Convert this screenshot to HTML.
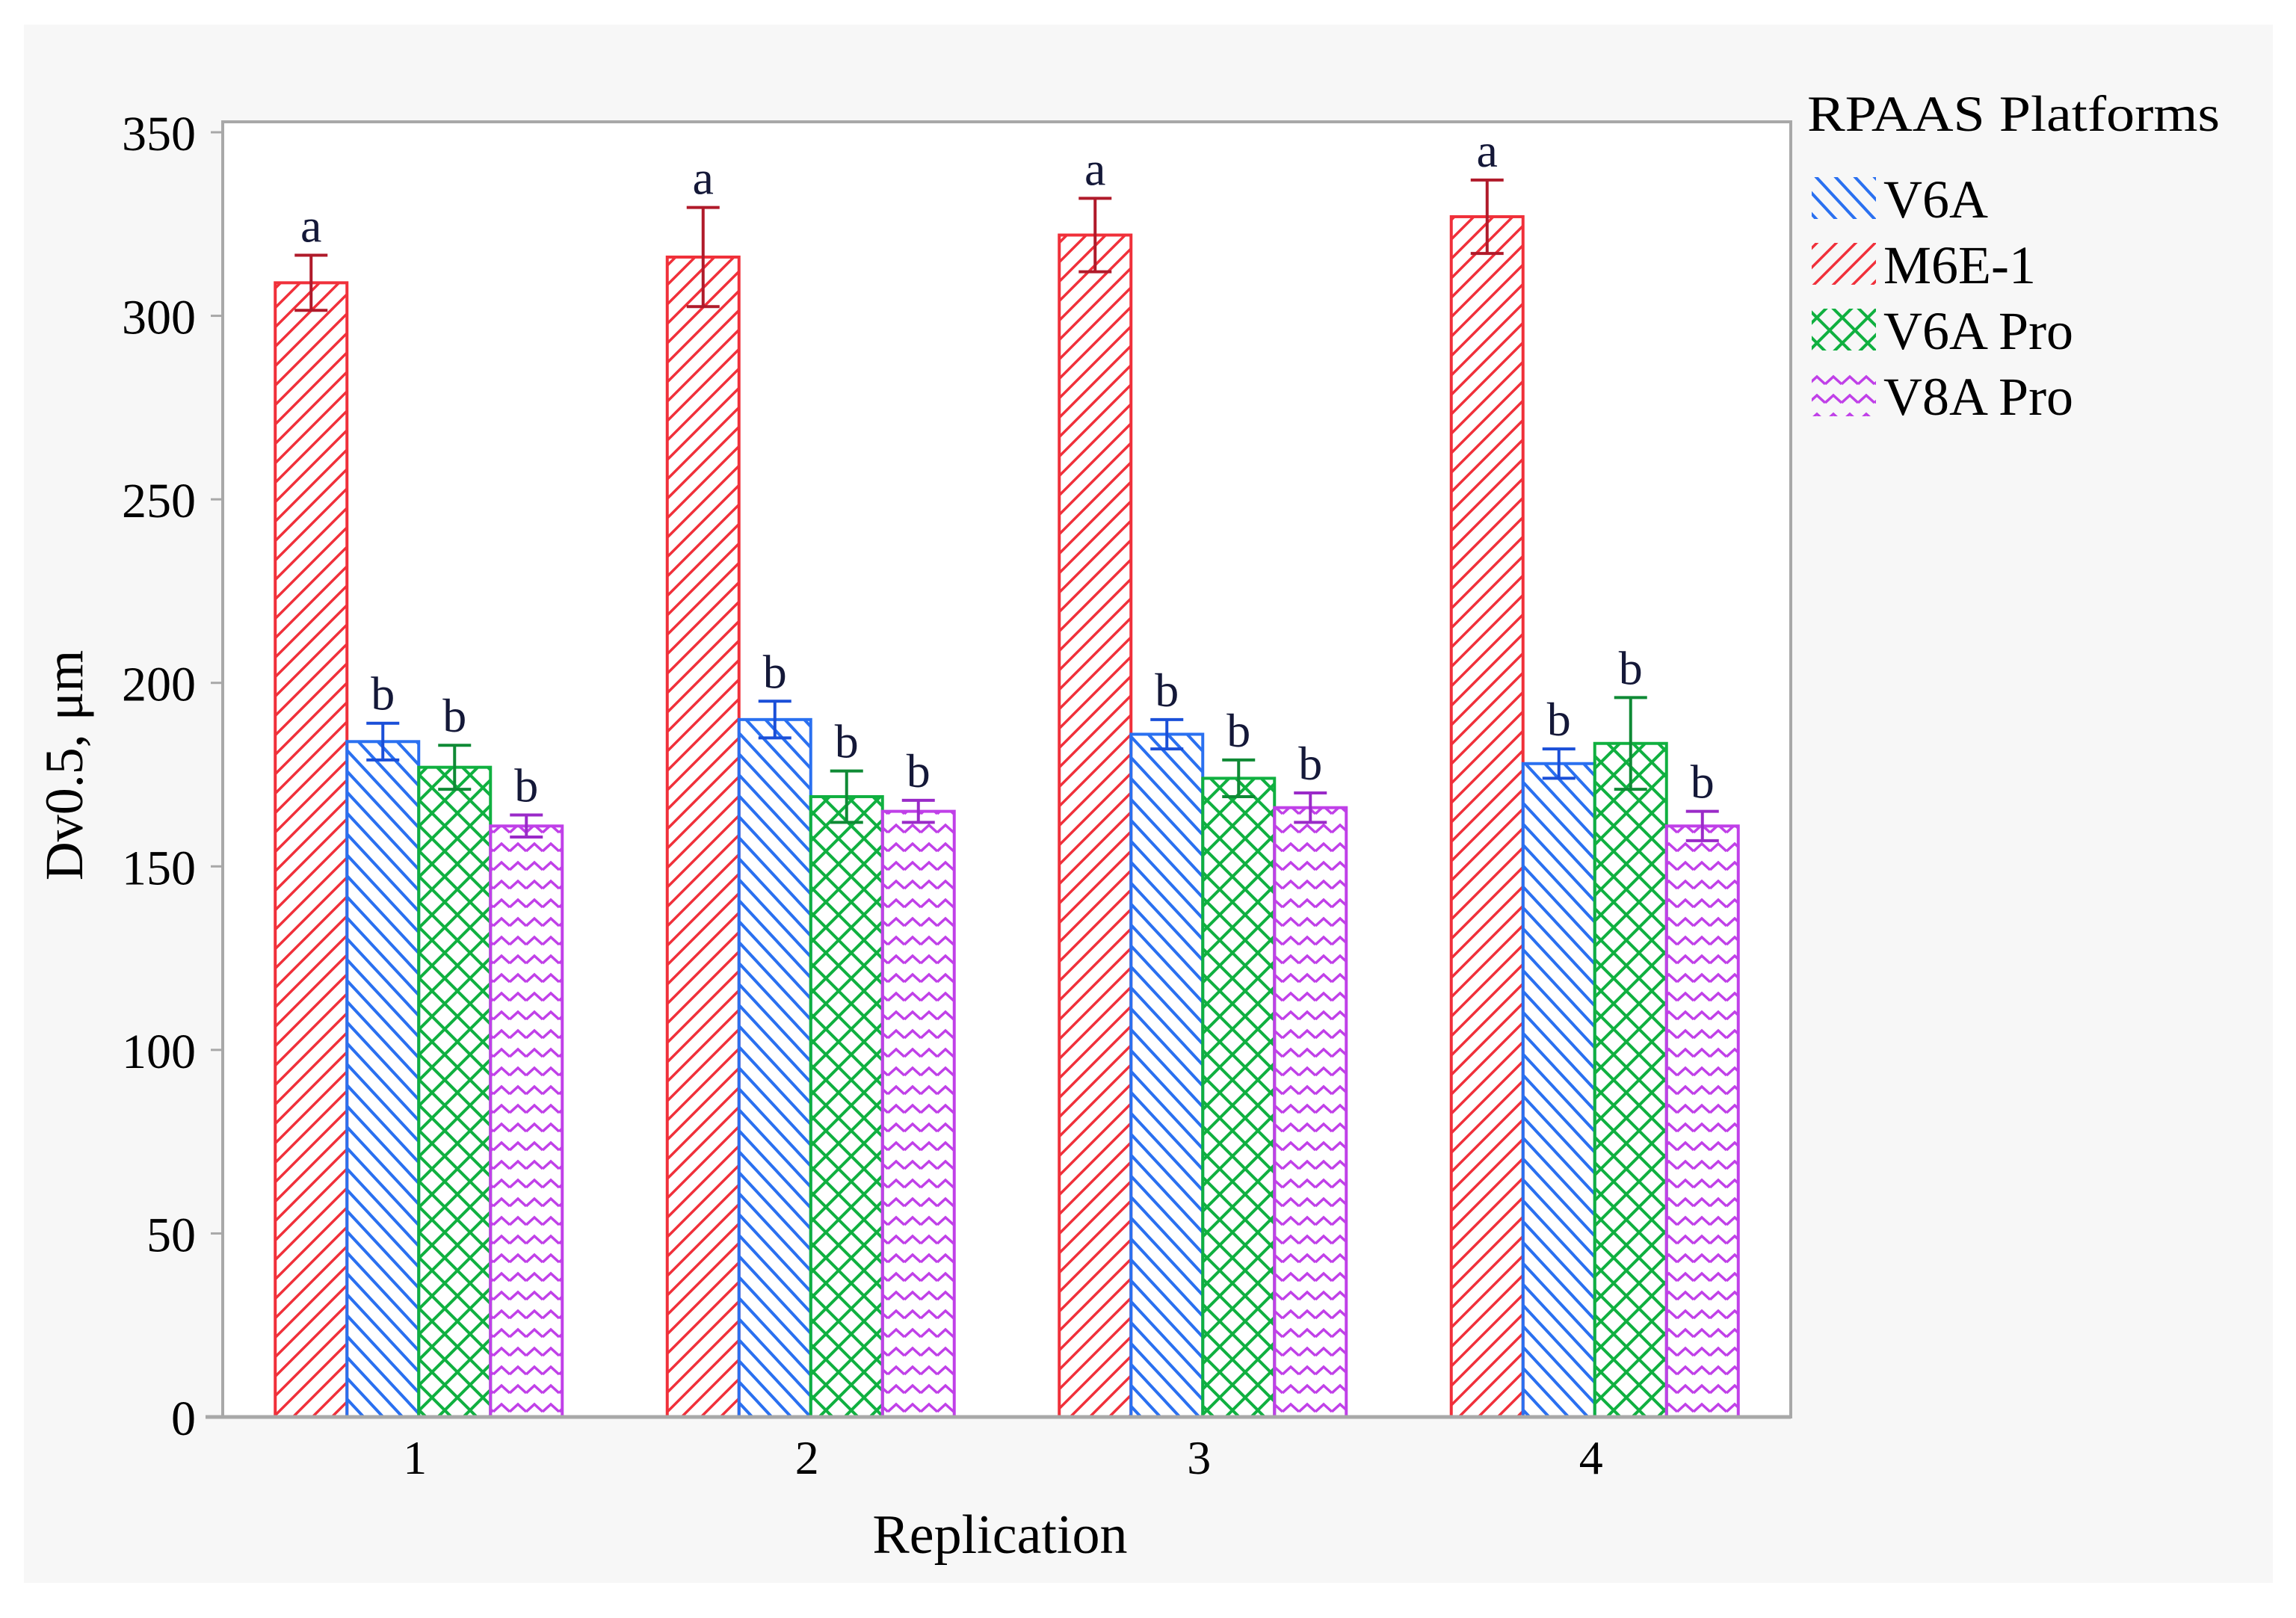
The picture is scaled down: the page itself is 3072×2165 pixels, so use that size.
<!DOCTYPE html>
<html><head><meta charset="utf-8"><style>
html,body{margin:0;padding:0;background:#fff;}
svg{display:block;}
text{font-family:"Liberation Serif",serif;}
</style></head><body>
<svg id="chart" width="3072" height="2165" viewBox="0 0 3072 2165" xmlns="http://www.w3.org/2000/svg">
<defs>
<pattern id="pRed" patternUnits="userSpaceOnUse" width="26" height="26"><path d="M-13,13 L13,-13 M0,26 L26,0 M13,39 L39,13" stroke="#f0303a" stroke-width="3.5" fill="none"/></pattern>
<pattern id="pBlue" patternUnits="userSpaceOnUse" width="26" height="28"><path d="M0,0 L26,28 M-26,0 L26,56 M0,-28 L52,28" stroke="#2a70f0" stroke-width="4" fill="none"/></pattern>
<pattern id="pGreen" patternUnits="userSpaceOnUse" width="34" height="34"><path d="M0,0 L34,34 M34,0 L0,34" stroke="#10b040" stroke-width="4" fill="none"/></pattern>
<pattern id="pPurple" patternUnits="userSpaceOnUse" width="22" height="25"><path d="M0,14 L11,4 L22,14" stroke="#c040e8" stroke-width="3.5" fill="none"/></pattern>
</defs>
<rect x="32" y="33" width="3009" height="2085" fill="#f7f7f7"/>
<rect x="298" y="163" width="2098" height="1733" fill="#fff" stroke="#a8a8a8" stroke-width="4"/>
<g id="yaxis"></g>
<g id="xaxis"></g>
<g id="bars"></g>
<line x1="275" y1="1896" x2="2396" y2="1896" stroke="#a8a8a8" stroke-width="5"/>
<text transform="translate(110,1024) rotate(-90)" text-anchor="middle" font-size="72">Dv0.5, μm</text>
<text x="1338" y="2078" text-anchor="middle" font-size="74">Replication</text>
<g>
<text x="2418" y="175" font-size="68" textLength="552" lengthAdjust="spacingAndGlyphs">RPAAS Platforms</text>
<g id="legend-items"></g>
</g>
</svg>
<script>
const categories = ["1","2","3","4"];
const seriesNames = ["M6E-1","V6A","V6A Pro","V8A Pro"];
const valsM6E = [309, 316, 322, 327];
const errM6E = [7.5, 13.5, 10, 10];
const valsV6A = [184, 190, 186, 178];
const errV6A = [5, 5, 4, 4];
const valsV6APro = [177, 169, 174, 183.5];
const errV6APro = [6, 7, 5, 12.5];
const valsV8APro = [161, 165, 166, 161];
const errV8APro = [3, 3, 4, 4];
const letters = [["a","b","b","b"],["a","b","b","b"],["a","b","b","b"],["a","b","b","b"]];
const yTicks = [0,50,100,150,200,250,300,350];
const legendOrder = ["V6A","M6E-1","V6A Pro","V8A Pro"];

const NS="http://www.w3.org/2000/svg";
const X0=298, X1=2396, Y0=1896, YTOP=177, YMAX=350;
const y = v => Y0 - (v/YMAX)*(Y0-YTOP);
const groupW=(X1-X0)/categories.length;
const xc = i => X0 + groupW*(i+0.5);
const barW=96;
const fills=["url(#pRed)","url(#pBlue)","url(#pGreen)","url(#pPurple)"];
const strokes=["#f0303a","#2a70f0","#10b040","#c040e8"];
const errCol=["#b01a2a","#1a4fd8","#0f8a35","#9a2ac8"];
const vals=[valsM6E,valsV6A,valsV6APro,valsV8APro];
const errs=[errM6E,errV6A,errV6APro,errV8APro];
function mk(tag,attrs,parent){const e=document.createElementNS(NS,tag);for(const k in attrs)e.setAttribute(k,attrs[k]);parent.appendChild(e);return e;}

const ya=document.getElementById('yaxis');
yTicks.forEach(t=>{
  const l=mk('line',{x1:X0-16,x2:X0,y1:y(t),y2:y(t),stroke:'#a8a8a8','stroke-width':3},ya);
  
  
  const tx=mk('text',{x:X0-36,y:y(t)+24,'text-anchor':'end','font-size':66,'font-family':'Liberation Sans, sans-serif'},ya);
  
  
  tx.textContent=t;
});
const xa=document.getElementById('xaxis');
categories.forEach((c,i)=>{
  const tx=mk('text',{x:xc(i)-5,y:1972,'text-anchor':'middle','font-size':64},xa);
  
  
  tx.textContent=c;
});
const bg=document.getElementById('bars');
categories.forEach((c,i)=>{
  for(let s=0;s<4;s++){
    const x=xc(i)-2*barW+s*barW, v=vals[s][i], e=errs[s][i], cx=x+barW/2;
    const r=mk('rect',{x:x,y:y(v),width:barW,height:Y0-y(v),fill:fills[s],stroke:strokes[s],'stroke-width':4},bg);
    
    
    const g=mk('g',{stroke:errCol[s],'stroke-width':4},bg);
    
    
    mk('line',{x1:cx,x2:cx,y1:y(v+e),y2:y(v-e)},g);
    mk('line',{x1:cx-22,x2:cx+22,y1:y(v+e),y2:y(v+e)},g);
    mk('line',{x1:cx-22,x2:cx+22,y1:y(v-e),y2:y(v-e)},g);
    const t=mk('text',{x:cx,y:y(v+e)-18,'text-anchor':'middle','font-size':64,fill:'#141838'},bg);
    
    
    t.textContent=letters[i][s];
  }
});
const li=document.getElementById('legend-items');
legendOrder.forEach((n,k)=>{
  const s=seriesNames.indexOf(n);
  const yy=237+k*88;
  const g=mk('g',{},li);
  
  
  mk('rect',{x:2424,y:yy,width:86,height:56,fill:fills[s]},g);
  const t=mk('text',{x:2520,y:yy+54,'font-size':72},g);
  t.textContent=n;
});
</script>
</body></html>
